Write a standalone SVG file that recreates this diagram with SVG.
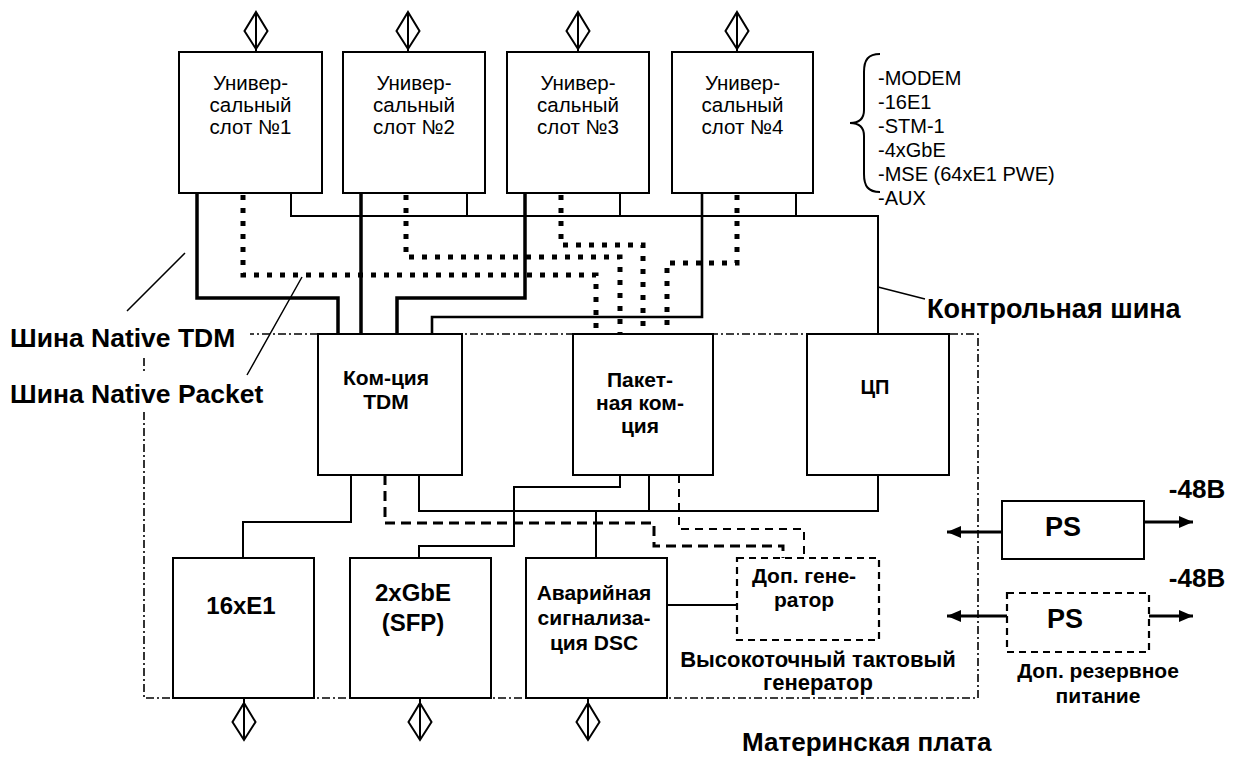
<svg xmlns="http://www.w3.org/2000/svg" width="1235" height="757" viewBox="0 0 1235 757">
<style>
text{font-family:"Liberation Sans",Arial,sans-serif;fill:#000}
.r{font-size:20.5px}
.b{font-weight:bold}
.c{text-anchor:middle}
.box{fill:#fff;stroke:#000;stroke-width:2}
.dbox{fill:#fff;stroke:#000;stroke-width:2.2;stroke-dasharray:7 5}
.ln{fill:none;stroke:#000;stroke-width:2}
.tdm{fill:none;stroke:#000;stroke-width:3.5}
.pkt{fill:none;stroke:#000;stroke-width:5;stroke-dasharray:5 8}
.clk{fill:none;stroke:#000;stroke-width:3;stroke-dasharray:10 6}
.clk2{fill:none;stroke:#000;stroke-width:2;stroke-dasharray:8 6}
.ldr{fill:none;stroke:#000;stroke-width:1.5}
.mb{fill:none;stroke:#000;stroke-width:1.6;stroke-dasharray:8 3 2 3}
.arr{fill:none;stroke:#000;stroke-width:3}
.dm{fill:none;stroke:#000;stroke-width:2}
</style>
<defs>
<marker id="ah" markerUnits="userSpaceOnUse" markerWidth="14" markerHeight="12" refX="14" refY="6" orient="auto">
<path d="M0,0 L14,6 L0,12 Z" fill="#000"/>
</marker>
<path id="diam" d="M0,0 L11.5,19 L0,37 L-11.5,19 Z M0,0 V37"/>
</defs>

<g id="connectors">
<path class="ln" d="M291,193 V216 H878 V334 M467,193 V216 M620,193 V216 M796,193 V216"/>
<path class="tdm" d="M197,193 V298 H338 V334 M361,193 V334 M525,193 V298 H397 V334"/>
<path class="ln" style="stroke-width:2.6" d="M702,193 V317 H432 V334"/>
<path class="pkt" d="M243,195 V275 H596 V334"/>
<path class="pkt" d="M406,195 V257 H620 V334"/>
<path class="pkt" d="M561,195 V245 H643 V334"/>
<path class="pkt" d="M737,195 V263 H667 V334"/>
<path class="ldr" d="M878,287 L925,299 M185,253 L127,311 M302,277 L247,375"/>
<path class="ln" d="M351,475 V522 H243 V558 M419,475 V511 H878 V475 M649,475 V511 M596,511 V558 M620,475 V487 H514 V546 H419 V558 M667,605 H737"/>
<path class="clk" d="M385,475 V523 H654 V546 H783 V558"/>
<path class="clk2" d="M679,475 V529 H804 V558"/>
<path class="arr" marker-end="url(#ah)" d="M1002,532 H947"/>
<path class="arr" marker-end="url(#ah)" d="M1144,522 H1193"/>
<path class="arr" marker-end="url(#ah)" d="M1007,616 H947"/>
<path class="arr" marker-end="url(#ah)" d="M1149,616 H1193"/>
<use href="#diam" class="dm" x="256" y="12"/><path class="dm" d="M256,49 V52"/>
<use href="#diam" class="dm" x="408" y="12"/><path class="dm" d="M408,49 V52"/>
<use href="#diam" class="dm" x="578" y="12"/><path class="dm" d="M578,49 V52"/>
<use href="#diam" class="dm" x="737" y="12"/><path class="dm" d="M737,49 V52"/>
<use href="#diam" class="dm" x="244" y="703"/><path class="dm" d="M244,698 V703"/>
<use href="#diam" class="dm" x="420" y="703"/><path class="dm" d="M420,698 V703"/>
<use href="#diam" class="dm" x="588" y="703"/><path class="dm" d="M588,698 V703"/>
<path class="ln" d="M880,54 C868,54 864,60 864,72 V110 C864,119 859,123 850,123 C859,123 864,127 864,136 V174 C864,186 868,192 880,192"/>
</g>

<g id="motherboard">
<path class="mb" d="M144,358 V373 M144,412 V698 H978 V334 H250"/>
<text class="b" x="742" y="751" style="font-size:26px">Материнская плата</text>
</g>

<g id="slot1"><rect class="box" x="179" y="52" width="143" height="141"/>
<text class="r c" x="250.5" y="90">Универ-</text><text class="r c" x="250.5" y="112">сальный</text><text class="r c" x="250.5" y="134">слот №1</text></g>
<g id="slot2"><rect class="box" x="343" y="52" width="142" height="141"/>
<text class="r c" x="414" y="90">Универ-</text><text class="r c" x="414" y="112">сальный</text><text class="r c" x="414" y="134">слот №2</text></g>
<g id="slot3"><rect class="box" x="507" y="52" width="142" height="141"/>
<text class="r c" x="578" y="90">Универ-</text><text class="r c" x="578" y="112">сальный</text><text class="r c" x="578" y="134">слот №3</text></g>
<g id="slot4"><rect class="box" x="672" y="52" width="141" height="141"/>
<text class="r c" x="742.5" y="90">Универ-</text><text class="r c" x="742.5" y="112">сальный</text><text class="r c" x="742.5" y="134">слот №4</text></g>

<g id="module-list" style="font-size:20px">
<text x="878" y="85">-MODEM</text>
<text x="878" y="109">-16E1</text>
<text x="878" y="133">-STM-1</text>
<text x="878" y="157">-4xGbE</text>
<text x="878" y="181">-MSE (64xE1 PWE)</text>
<text x="878" y="205">-AUX</text>
</g>

<g id="bus-labels" class="b">
<text x="927" y="318" style="font-size:27px">Контрольная шина</text>
<text x="10" y="347" style="font-size:26.5px">Шина Native TDM</text>
<text x="10" y="403" style="font-size:26.5px">Шина Native Packet</text>
</g>

<g id="tdm-switch"><rect class="box" x="318" y="334" width="144" height="141"/>
<text class="b c" style="font-size:21px" x="386" y="385">Ком-ция</text><text class="b c" style="font-size:21px" x="386" y="409">TDM</text></g>
<g id="packet-switch"><rect class="box" x="573" y="334" width="140" height="141"/>
<text class="b c" style="font-size:21px" x="640" y="387">Пакет-</text><text class="b c" style="font-size:21px" x="640" y="410">ная ком-</text><text class="b c" style="font-size:21px" x="640" y="433">ция</text></g>
<g id="cpu"><rect class="box" x="807" y="334" width="142" height="141"/>
<text class="b c" style="font-size:20px" x="875" y="394">ЦП</text></g>

<g id="e1"><rect class="box" x="173" y="558" width="141" height="140"/>
<text class="b c" style="font-size:24px" x="241" y="614">16xE1</text></g>
<g id="gbe"><rect class="box" x="350" y="558" width="141" height="140"/>
<text class="b c" style="font-size:24px" x="413" y="601">2xGbE</text><text class="b c" style="font-size:24px" x="413" y="631">(SFP)</text></g>
<g id="alarm"><rect class="box" x="526" y="558" width="141" height="140"/>
<text class="b c" style="font-size:21px" x="594" y="600">Аварийная</text><text class="b c" style="font-size:21px" x="594" y="625">сигнализа-</text><text class="b c" style="font-size:21px" x="594" y="650">ция DSC</text></g>
<g id="generator"><rect class="dbox" x="737" y="558" width="142" height="82"/>
<text class="b c" style="font-size:21px" x="804" y="583">Доп. гене-</text><text class="b c" style="font-size:21px" x="804" y="607">ратор</text>
<text class="b c" style="font-size:22px" x="818" y="667">Высокоточный тактовый</text><text class="b c" style="font-size:22px" x="818" y="690">генератор</text></g>

<g id="ps1"><rect class="box" x="1002" y="501" width="142" height="58"/>
<text class="b c" style="font-size:27px" x="1063" y="536">PS</text>
<text class="b c" style="font-size:26px" x="1197" y="498">-48В</text></g>
<g id="ps2"><rect class="dbox" x="1007" y="593" width="142" height="59"/>
<text class="b c" style="font-size:27px" x="1065" y="628">PS</text>
<text class="b c" style="font-size:26px" x="1197" y="587">-48В</text>
<text class="b c" style="font-size:21px" x="1098" y="678">Доп. резервное</text><text class="b c" style="font-size:21px" x="1098" y="703">питание</text></g>
</svg>
